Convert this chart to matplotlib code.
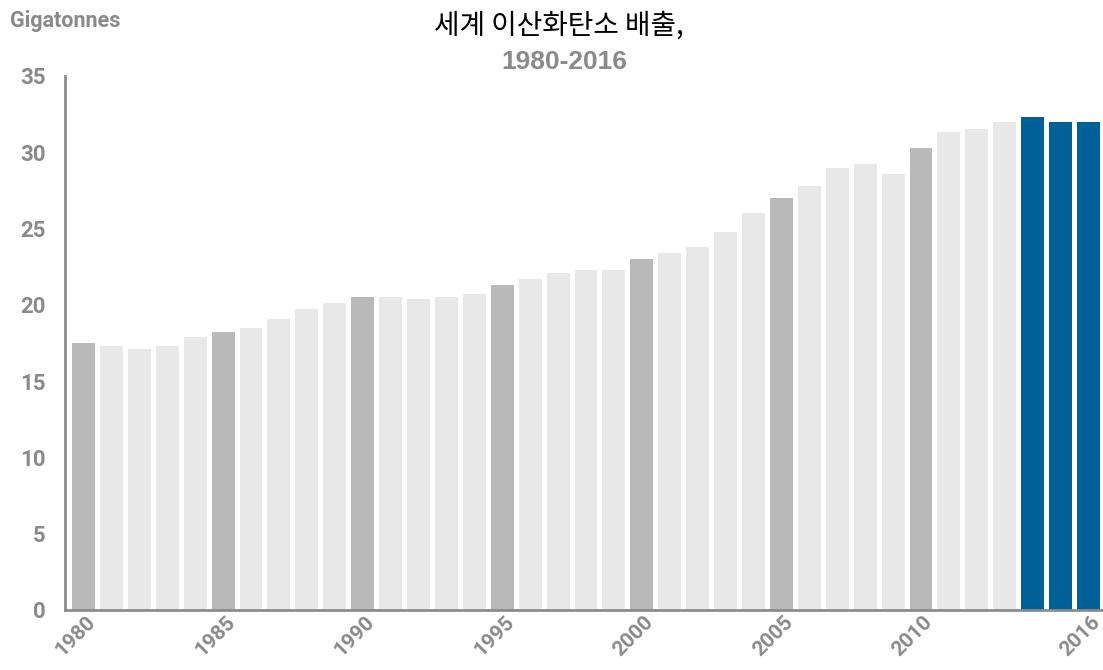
import matplotlib.pyplot as plt
import matplotlib.transforms as mtransforms

plt.rcParams["font.family"] = ["Roboto", "DejaVu Sans"]

years = list(range(1980, 2017))
emissions = [17.5, 17.3, 17.1, 17.3, 17.9, 18.2, 18.5, 19.1, 19.7, 20.1,
             20.5, 20.5, 20.4, 20.5, 20.7, 21.3, 21.7, 22.1, 22.3, 22.3,
             23.0, 23.4, 23.8, 24.8, 26.0, 27.0, 27.8, 29.0, 29.2, 28.6,
             30.3, 31.3, 31.5, 32.0, 32.3, 32.0, 32.0]
tick_years = [1980, 1985, 1990, 1995, 2000, 2005, 2010, 2016]
highlight_years = [2014, 2015, 2016]

LIGHT = "#e8e8e8"
MID = "#b8b9b8"
BLUE = "#006098"
TEXT = "#8a8a8a"


def bar_color(y):
    if y in highlight_years:
        return BLUE
    if y % 5 == 0:
        return MID
    return LIGHT


fig = plt.figure(figsize=(11.03, 6.70), dpi=100)
ax = fig.add_axes([0.059, 0.0896, 0.941, 0.797])

ax.bar(years, emissions, width=0.82, color=[bar_color(y) for y in years], zorder=2)

ax.set_xlim(1980 - 0.66, 2016 + 0.52)
ax.set_ylim(0, 35)
ax.set_yticks(range(0, 36, 5))
ax.set_yticklabels([str(v) for v in range(0, 36, 5)], fontsize=16, fontweight="bold")
ax.set_xticks(tick_years)
ax.set_xticklabels([str(y) for y in tick_years], fontsize=15, fontweight="bold",
                   rotation=45, ha="right", va="top", rotation_mode="anchor")

ax.tick_params(axis="both", length=0, colors=TEXT)
ax.tick_params(axis="y", pad=14)
ax.tick_params(axis="x", pad=2)

offset = mtransforms.ScaledTranslation(2 / 100, 0, fig.dpi_scale_trans)
for lbl in ax.get_xticklabels():
    lbl.set_transform(lbl.get_transform() + offset)

for side in ["top", "right"]:
    ax.spines[side].set_visible(False)
for side in ["left", "bottom"]:
    ax.spines[side].set_color("#8c8c8c")
    ax.spines[side].set_linewidth(2)

fig.text(0.009, 0.968, "Gigatonnes", fontsize=15.5, fontweight="bold", color=TEXT,
         ha="left", va="center")
fig.text(0.507, 0.962, "세계 이산화탄소 배출,", fontsize=20, color="black",
         ha="center", va="center", family=["Noto Sans CJK KR", "DejaVu Sans"])
fig.text(0.512, 0.907, "1980-2016", fontsize=19, fontweight="bold", color=TEXT,
         ha="center", va="center", family=["Liberation Sans", "DejaVu Sans"])

fig.savefig("out.png", dpi=100)
